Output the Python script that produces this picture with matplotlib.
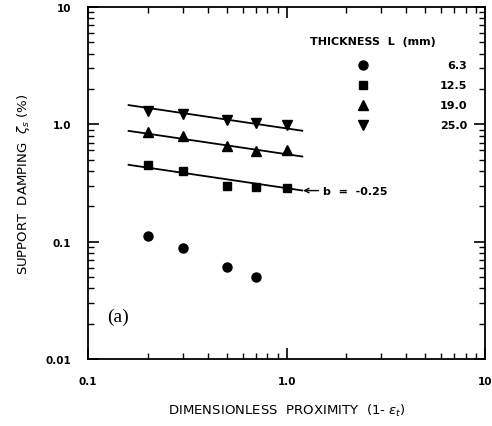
import matplotlib
matplotlib.use("Agg")
import matplotlib.pyplot as plt
import numpy as np
from matplotlib.ticker import LogLocator, NullFormatter, FixedLocator, FixedFormatter

# proximity (1 - eps_t)
prox = [0.2, 0.3, 0.5, 0.7, 1.0]
prox_circ = [0.2, 0.3, 0.5, 0.7]

# support damping (%) per thickness L (mm)
damp_63 = [0.112, 0.089, 0.061, 0.050]
damp_125 = [0.45, 0.40, 0.30, 0.29, 0.285]
damp_190 = [0.86, 0.79, 0.65, 0.59, 0.61]
damp_250 = [1.31, 1.22, 1.10, 1.02, 0.98]

thickness = ["6.3", "12.5", "19.0", "25.0"]

# fitted power law lines, slope b = -0.25
b = -0.25
fit_coef = [0.286, 0.557, 0.924]
fit_range = [0.16, 1.2]

fig = plt.figure(figsize=(4.92, 4.27), dpi=100)
ax = fig.add_axes([0.179, 0.157, 0.807, 0.824])
ax.set_xscale("log")
ax.set_yscale("log")
ax.set_xlim(0.1, 10)
ax.set_ylim(0.01, 10)

xf = np.geomspace(fit_range[0], fit_range[1], 50)
for a in fit_coef:
    ax.plot(xf, a * xf ** b, color="black", lw=1.3)

ax.plot(prox_circ, damp_63, "o", color="black", ms=6.5, ls="none")
ax.plot(prox, damp_125, "s", color="black", ms=5.5, ls="none")
ax.plot(prox, damp_190, "^", color="black", ms=6.5, ls="none")
ax.plot(prox, damp_250, "v", color="black", ms=6.5, ls="none")

# legend drawn as text
ax.text(0.56, 0.905, "THICKNESS  L  (mm)", transform=ax.transAxes,
        fontsize=8, fontweight="bold", ha="left", va="center")
legend_markers = ["o", "s", "^", "v"]
for i, (m, lab) in enumerate(zip(legend_markers, thickness)):
    yy = 0.835 - i * 0.057
    ax.plot([0.693], [yy], m, color="black", ms=6.5 if m != "s" else 5.5,
            transform=ax.transAxes, clip_on=False)
    ax.text(0.955, yy, lab, transform=ax.transAxes, fontsize=8,
            fontweight="bold", ha="right", va="center")

ax.annotate("b  =  -0.25", xy=(1.21, fit_coef[0] * 1.21 ** b),
            xytext=(1.52, fit_coef[0] * 1.21 ** b), fontsize=8,
            fontweight="bold", va="center", ha="left",
            arrowprops=dict(arrowstyle="->", lw=1.0, color="black",
                            shrinkA=1, shrinkB=0))

ax.text(0.125, 0.021, "(a)", fontsize=14, family="Liberation Serif")

ax.xaxis.set_major_locator(FixedLocator([0.1, 1, 10]))
ax.xaxis.set_major_formatter(FixedFormatter(["0.1", "1.0", "10"]))
ax.yaxis.set_major_locator(FixedLocator([0.01, 0.1, 1, 10]))
ax.yaxis.set_major_formatter(FixedFormatter(["0.01", "0.1", "1.0", "10"]))
for axis in (ax.xaxis, ax.yaxis):
    axis.set_minor_locator(LogLocator(base=10, subs=np.arange(2, 10)))
    axis.set_minor_formatter(NullFormatter())

ax.tick_params(which="both", direction="in", top=True, right=True)
ax.tick_params(which="major", length=8, width=1.2, pad=12, labelsize=7.5)
ax.tick_params(which="minor", length=4, width=1.0)
for lab in ax.get_xticklabels() + ax.get_yticklabels():
    lab.set_fontweight("bold")
for sp in ax.spines.values():
    sp.set_linewidth(1.3)

ax.set_xlabel(r"DIMENSIONLESS  PROXIMITY  (1- $\epsilon_t$)", fontsize=9.5,
              labelpad=12)
ax.set_ylabel(r"SUPPORT  DAMPING  $\zeta_s$ (%)", fontsize=9.5, labelpad=10)

fig.savefig("out.png", dpi=100)
